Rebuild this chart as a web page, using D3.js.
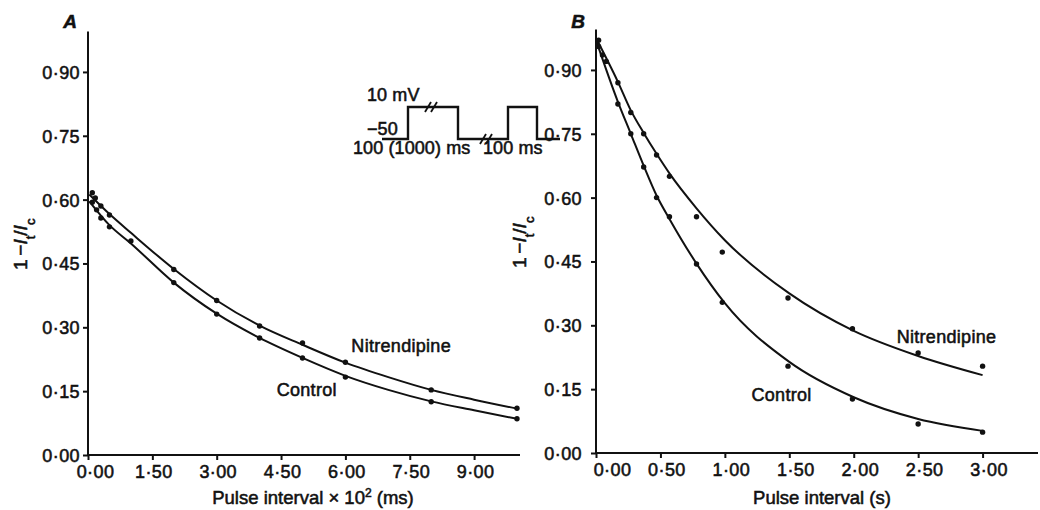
<!DOCTYPE html>
<html>
<head>
<meta charset="utf-8">
<script src="https://cdn.jsdelivr.net/npm/d3@7"></script>
<style>
  html, body { margin: 0; padding: 0; background: #fff; }
  svg { display: block; font-family: "Liberation Sans", Arial, Helvetica, sans-serif; }
  svg text { fill: #111; stroke: #111; stroke-width: 0.55px; }
  .tick text { font-size: 18px; letter-spacing: 0.4px; }
  .domain, .tick line { stroke: #111; stroke-width: 2px; }
</style>
</head>
<body>
<svg id="chart" width="1040" height="510"></svg>
<script>
// ---------- Data ----------
// Panel A: pulse interval (x 10^2 ms) - measured points
const aNitrX = [0.1, 0.17, 0.3, 0.5, 2.0, 3.0, 4.0, 5.0, 6.0, 8.0, 10.0];
const aNitrY = [0.616, 0.604, 0.585, 0.564, 0.436, 0.363, 0.303, 0.263, 0.218, 0.153, 0.110];
const aCtrlX = [0.1, 0.2, 0.3, 0.5, 1.0, 2.0, 3.0, 4.0, 5.0, 6.0, 8.0, 10.0];
const aCtrlY = [0.594, 0.576, 0.557, 0.536, 0.503, 0.405, 0.331, 0.275, 0.228, 0.183, 0.125, 0.085];

// Panel A: fitted curves
const aNitrFitX = [0.03, 0.5, 1.0, 2.0, 3.0, 4.0, 5.0, 6.0, 7.0, 8.0, 9.0, 10.0];
const aNitrFitY = [0.612, 0.566, 0.522, 0.437, 0.363, 0.304, 0.259, 0.217, 0.183, 0.153, 0.130, 0.109];
const aCtrlFitX = [0.03, 0.5, 1.0, 2.0, 3.0, 4.0, 5.0, 6.0, 7.0, 8.0, 9.0, 10.0];
const aCtrlFitY = [0.596, 0.540, 0.497, 0.405, 0.332, 0.275, 0.228, 0.186, 0.153, 0.126, 0.105, 0.085];

// Panel B: pulse interval (s) - measured points
const bNitrX = [0.02, 0.05, 0.17, 0.27, 0.37, 0.47, 0.57, 0.78, 0.98, 1.49, 1.99, 2.5, 3.0];
const bNitrY = [0.970, 0.935, 0.870, 0.800, 0.750, 0.700, 0.650, 0.555, 0.472, 0.364, 0.292, 0.235, 0.204];
const bCtrlX = [0.02, 0.08, 0.17, 0.27, 0.37, 0.47, 0.57, 0.78, 0.98, 1.49, 1.99, 2.5, 3.0];
const bCtrlY = [0.955, 0.920, 0.820, 0.750, 0.672, 0.600, 0.555, 0.444, 0.354, 0.204, 0.127, 0.068, 0.049];

// Panel B: fitted curves
const bNitrFitX = [0.0, 0.17, 0.27, 0.37, 0.47, 0.57, 0.78, 1.0, 1.5, 2.0, 2.5, 3.0];
const bNitrFitY = [0.975, 0.872, 0.805, 0.752, 0.703, 0.657, 0.575, 0.500, 0.375, 0.287, 0.228, 0.183];
const bCtrlFitX = [0.0, 0.17, 0.27, 0.37, 0.47, 0.57, 0.78, 1.0, 1.5, 2.0, 2.5, 3.0];
const bCtrlFitY = [0.970, 0.825, 0.750, 0.675, 0.605, 0.550, 0.445, 0.352, 0.214, 0.131, 0.080, 0.052];

// Tick values
const aXTicks = [0, 1.5, 3.0, 4.5, 6.0, 7.5, 9.0];
const bXTicks = [0, 0.5, 1.0, 1.5, 2.0, 2.5, 3.0];
const yTicks = [0, 0.15, 0.30, 0.45, 0.60, 0.75, 0.90];

const seriesNames = ["Nitrendipine", "Control"];

// ---------- Helpers ----------
const zip = (xs, ys) => xs.map((x, i) => ({ x, y: ys[i] }));
const fmt = v => d3.format(".2f")(v).replace(".", "\u00B7");

const svg = d3.select("#chart");

function panel(opts) {
  const { x, y, xTicks, firstDx, labelDx, yPad, series, fits, letter, xLabel, yLabelX, labels } = opts;
  const g = svg.append("g");

  // axes
  const xAxis = d3.axisBottom(x).tickValues(xTicks).tickSize(5).tickPadding(5).tickFormat(fmt);
  const gx = g.append("g").attr("transform", `translate(0,${y(0)})`).call(xAxis);
  gx.select(".domain").attr("d", `M${x.range()[0]},0H${x.range()[1]}`);
  gx.selectAll(".tick text").attr("dx", (d, i) => i === 0 ? firstDx : labelDx);

  const yAxis = d3.axisLeft(y).tickValues(yTicks).tickSize(5).tickPadding(yPad).tickFormat(fmt);
  const gy = g.append("g").attr("transform", `translate(${x.range()[0]},0)`).call(yAxis);
  gy.select(".domain").attr("d", `M0,${y.range()[0]}V${y.range()[1]}`);
  gy.selectAll(".tick text").attr("dy", "0.36em");

  // curves
  const line = d3.line().x(d => x(d.x)).y(d => y(d.y)).curve(d3.curveMonotoneX);
  fits.forEach(f => {
    g.append("path").datum(f).attr("d", line)
      .attr("fill", "none").attr("stroke", "#111").attr("stroke-width", 2);
  });
  // points
  series.forEach(s => {
    g.append("g").selectAll("circle").data(s).join("circle")
      .attr("cx", d => x(d.x)).attr("cy", d => y(d.y)).attr("r", 2.7).attr("fill", "#111");
  });

  // series labels
  labels.forEach(l => {
    g.append("text").attr("x", x(l.x)).attr("y", y(l.y))
      .attr("text-anchor", "middle").attr("font-size", 18)
      .attr("letter-spacing", "0.3px").text(l.text);
  });

  // panel letter
  g.append("text").attr("x", x.range()[0] - 18).attr("y", 28)
    .attr("text-anchor", "middle").attr("font-size", 19).attr("font-style", "italic")
    .attr("font-weight", "bold").text(letter);

  // x label
  const xl = g.append("text").attr("x", (x.range()[0] + x.range()[1]) / 2 + xLabel.dx).attr("y", 504)
    .attr("text-anchor", "middle").attr("font-size", 18.5);
  xLabel.parts.forEach(p => {
    const t = xl.append("tspan").text(p.t);
    if (p.sup) t.attr("baseline-shift", "super").attr("font-size", 12);
  });

  // y label: 1 − I_t/I_c
  const yl = g.append("text")
    .attr("transform", `translate(${yLabelX},${(y(0) + y(0.99)) / 2}) rotate(-90)`)
    .attr("text-anchor", "middle").attr("font-size", 19);
  yl.append("tspan").text("1\u2009\u2212");
  yl.append("tspan").attr("font-style", "italic").text("I");
  yl.append("tspan").attr("baseline-shift", "sub").attr("font-size", 13).text("t");
  yl.append("tspan").text("/");
  yl.append("tspan").attr("font-style", "italic").text("I");
  yl.append("tspan").attr("baseline-shift", "sub").attr("font-size", 13).text("c");
  return g;
}

// ---------- Panel A ----------
const xA = d3.scaleLinear().domain([0, 10.07]).range([88, 520]);
const yA = d3.scaleLinear().domain([0, 0.995]).range([455, 31.5]);
panel({
  x: xA, y: yA, xTicks: aXTicks, firstDx: 7, labelDx: 1, yPad: 3,
  series: [zip(aNitrX, aNitrY), zip(aCtrlX, aCtrlY)],
  fits: [zip(aNitrFitX, aNitrFitY), zip(aCtrlFitX, aCtrlFitY)],
  letter: "A",
  xLabel: { dx: 9, parts: [{ t: "Pulse interval \u00D7 10" }, { t: "2", sup: true }, { t: " (ms)" }] },
  yLabelX: 27,
  labels: [{ text: seriesNames[0], x: 7.3, y: 0.242 }, { text: seriesNames[1], x: 5.1, y: 0.139 }]
});

// ---------- Panel B ----------
const xB = d3.scaleLinear().domain([0, 3.43]).range([596, 1038]);
const yB = d3.scaleLinear().domain([0, 0.995]).range([453, 29.5]);
panel({
  x: xB, y: yB, xTicks: bXTicks, firstDx: 16, labelDx: 6, yPad: 9,
  series: [zip(bNitrX, bNitrY), zip(bCtrlX, bCtrlY)],
  fits: [zip(bNitrFitX, bNitrFitY), zip(bCtrlFitX, bCtrlFitY)],
  letter: "B",
  xLabel: { dx: 5, parts: [{ t: "Pulse interval (s)" }] },
  yLabelX: 526,
  labels: [{ text: seriesNames[0], x: 2.72, y: 0.258 }, { text: seriesNames[1], x: 1.44, y: 0.122 }]
});

// ---------- Inset: pulse protocol (schematic) ----------
const inset = svg.append("g").attr("transform", "translate(382,107)");
const lowY = 32, highY = 0;
const wave = [[0, lowY], [26, lowY], [26, highY], [76, highY], [76, lowY], [126, lowY], [126, highY], [155, highY], [155, lowY], [178, lowY]];
inset.append("path").attr("d", d3.line()(wave)).attr("fill", "none")
  .attr("stroke", "#111").attr("stroke-width", 2.4);
[[49, highY], [104, lowY]].forEach(([bx, by]) => {
  [-3, 3].forEach(o => {
    inset.append("line").attr("x1", bx + o - 3).attr("y1", by + 5).attr("x2", bx + o + 3).attr("y2", by - 5)
      .attr("stroke", "#111").attr("stroke-width", 1.8);
  });
});
const insetText = [
  { t: "10 mV", x: -15, y: -6 },
  { t: "\u221250", x: -15, y: 28 },
  { t: "100 (1000) ms", x: -29, y: 47 },
  { t: "100 ms", x: 101, y: 47 }
];
inset.selectAll("text.lab").data(insetText).join("text")
  .attr("x", d => d.x).attr("y", d => d.y).attr("font-size", 18)
  .attr("letter-spacing", "0.1px").text(d => d.t);
</script>
</body>
</html>
